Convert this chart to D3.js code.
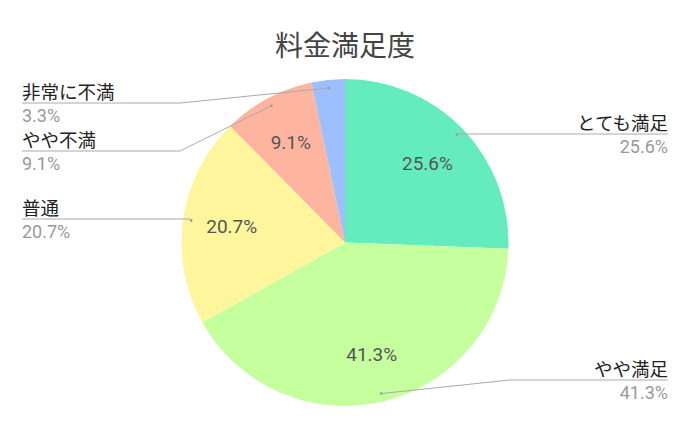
<!DOCTYPE html>
<html><head><meta charset="utf-8">
<script src="https://cdn.jsdelivr.net/npm/d3@7"></script>
<style>body{margin:0;background:#fff}svg{display:block}</style>
</head><body>
<svg id="c" width="690" height="426"></svg>
<script>
const categories = ["とても満足", "やや満足", "普通", "やや不満", "非常に不満"];
const values = [25.6, 41.3, 20.7, 9.1, 3.3];
const colors = ["#64ECBF", "#C6FF9E", "#FEF59D", "#FDB59F", "#9DBFFE"];
const title = "料金満足度";

const W = 690, H = 426, cx = 345, cy = 242.5, R = 163.5;
const svg = d3.select("#c");
const FONT = "Roboto, 'Noto Sans CJK JP', sans-serif";
const JP = "'Noto Sans CJK JP', sans-serif";

svg.append("text").attr("x", W/2).attr("y", 56).attr("text-anchor","middle")
  .attr("font-family", JP).attr("font-size", 28).attr("fill","#444").text(title);

const data = categories.map((c,i)=>({name:c, value:values[i], color:colors[i]}));
const pie = d3.pie().value(d=>d.value).sort(null);
const arcs = pie(data);
const arc = d3.arc().innerRadius(0).outerRadius(R);
const g = svg.append("g").attr("transform", `translate(${cx},${cy})`);
g.selectAll("path").data(arcs).join("path").attr("d", arc).attr("fill", d=>d.data.color);

// inner labels (only for slices large enough)
const inner = d3.arc().innerRadius(R*0.7).outerRadius(R*0.7);
g.selectAll("text.in").data(arcs.filter(d=>d.data.value>=5)).join("text")
  .attr("transform", d=>`translate(${inner.centroid(d)})`)
  .attr("text-anchor","middle").attr("dy","0.36em")
  .attr("font-family", FONT).attr("font-size", 19).attr("fill","#555")
  .text(d=>d.data.value.toFixed(1)+"%");

// leader label layout: [lineY, elbowX]
const layout = [[134,null],[380,510],[219,null],[151,180],[103,180]];
const edge = d3.arc().innerRadius(R*0.95).outerRadius(R*0.95);
arcs.forEach((a,i)=>{
  const [px,py] = edge.centroid(a);
  const p = [cx+px, cy+py];
  const mid = (a.startAngle+a.endAngle)/2;
  const right = mid < Math.PI;
  const [ly, ex] = layout[i];
  const endX = right ? 668 : 22;
  const pts = [p];
  if (ex !== null) pts.push([ex, ly]); else pts.push([right? p[0]+1 : p[0]-1, ly]);
  pts.push([endX, ly]);
  svg.append("path").attr("d", d3.line()(pts)).attr("fill","none").attr("stroke","#aaa").attr("stroke-width",1);
  svg.append("circle").attr("cx",p[0]).attr("cy",p[1]).attr("r",1.3).attr("fill","#999");
  const anchor = right ? "end" : "start";
  svg.append("text").attr("x", endX).attr("y", ly-4).attr("text-anchor", anchor)
    .attr("font-family", JP).attr("font-size", 18.5).attr("fill","#222").text(a.data.name);
  svg.append("text").attr("x", endX).attr("y", ly+19).attr("text-anchor", anchor)
    .attr("font-family", FONT).attr("font-size", 18).attr("fill","#999").text(a.data.value.toFixed(1)+"%");
});
</script>
</body></html>
